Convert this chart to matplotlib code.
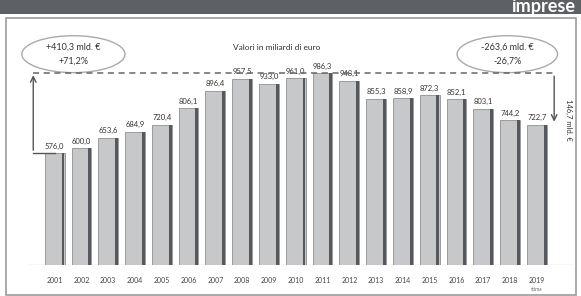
import matplotlib.pyplot as plt
from matplotlib.patches import Ellipse, Rectangle

plt.rcParams["font.family"] = ["Lato", "DejaVu Sans"]

anni = ["2001", "2002", "2003", "2004", "2005", "2006", "2007", "2008", "2009", "2010",
        "2011", "2012", "2013", "2014", "2015", "2016", "2017", "2018", "2019"]
valori = [576.0, 600.0, 653.6, 684.9, 720.4, 806.1, 896.4, 957.5, 933.0, 961.0,
          986.3, 948.1, 855.3, 858.9, 872.3, 852.1, 803.1, 744.2, 722.7]
etichette = ["576,0", "600,0", "653,6", "684,9", "720,4", "806,1", "896,4", "957,5", "933,0", "961,0",
             "986,3", "948,1", "855,3", "858,9", "872,3", "852,1", "803,1", "744,2", "722,7"]

fig = plt.figure(figsize=(5.81, 2.96), dpi=100)
fig.patch.set_facecolor("white")

# header band and white panel (behind the axes)
fig.patches.append(Rectangle((0, 0.952), 1, 0.05, transform=fig.transFigure,
                             facecolor="#5d6165", edgecolor="none", zorder=-10))
fig.patches.append(Rectangle((0.01, 0.005), 0.982, 0.935, transform=fig.transFigure,
                             facecolor="none", edgecolor="#9a9c9e", linewidth=1.2, zorder=-10))
fig.text(0.99, 0.978, "imprese", color="white", fontsize=13, fontweight="bold",
         ha="right", va="center")

ax = fig.add_axes([0.048, 0.105, 0.945, 0.794])
ax.patch.set_alpha(0)
x = list(range(len(anni)))

# bars with a darker side for a 3d look
ax.bar(x, valori, width=0.74, color="#c6c8ca", edgecolor="#8e9194", linewidth=0.6, zorder=2)
ax.bar([i + 0.31 for i in x], valori, width=0.11, color="#55595d", edgecolor="none", zorder=3)
ax.axhline(0, color="#d8d8d8", linewidth=1.0, zorder=1)

for i, (v, t) in enumerate(zip(valori, etichette)):
    ax.text(i, v + 18, t, ha="center", va="bottom", fontsize=5.5, color="#333333")

ax.set_xticks(x)
ax.set_xticklabels(anni, fontsize=5, color="#444444")
ax.tick_params(length=0, pad=9)
ax.text(18, -125, "stima", ha="center", va="center", fontsize=3.5, color="#666666")

ax.set_xlim(-1, 19.5)
ax.set_ylim(0, 1210)
ax.set_yticks([])
for s in ax.spines.values():
    s.set_visible(False)

top = max(valori)
# dashed reference line at the maximum
ax.plot([-0.8, 18.65], [top, top], linestyle=(0, (4, 3)), color="#666666", linewidth=1.1, zorder=4)

# left bracket: from first bar up to the maximum
ax.plot([0, -0.8], [valori[0], valori[0]], color="#555555", linewidth=1, clip_on=False)
ax.annotate("", xy=(-0.8, top + 5), xytext=(-0.8, valori[0]),
            arrowprops=dict(arrowstyle="->", color="#555555", lw=1))
# right arrow: from the maximum down to the last bar
ax.annotate("", xy=(18.65, valori[-1]), xytext=(18.65, top),
            arrowprops=dict(arrowstyle="->", color="#555555", lw=1))
ax.text(19.2, 745, "146,7 mld. €", rotation=270, ha="center", va="center",
        fontsize=5.5, color="#333333")

# title and boxed annotations
ax.text(8.3, 1120, "Valori in miliardi di euro", ha="center", va="center", fontsize=6, color="#333333")
ax.add_patch(Ellipse((0.7, 1085), 3.85, 190, facecolor="none", edgecolor="#aaaaaa",
                     linewidth=1, clip_on=False))
ax.text(0.7, 1120, "+410,3 mld. €", ha="center", va="center", fontsize=6.5, color="#333333")
ax.text(0.7, 1050, "+71,2%", ha="center", va="center", fontsize=6.5, color="#333333")
ax.add_patch(Ellipse((16.9, 1085), 3.75, 190, facecolor="none", edgecolor="#aaaaaa",
                     linewidth=1, clip_on=False))
ax.text(16.9, 1120, "-263,6 mld. €", ha="center", va="center", fontsize=6.5, color="#333333")
ax.text(16.9, 1050, "-26,7%", ha="center", va="center", fontsize=6.5, color="#333333")

fig.savefig("out.png", dpi=100)
